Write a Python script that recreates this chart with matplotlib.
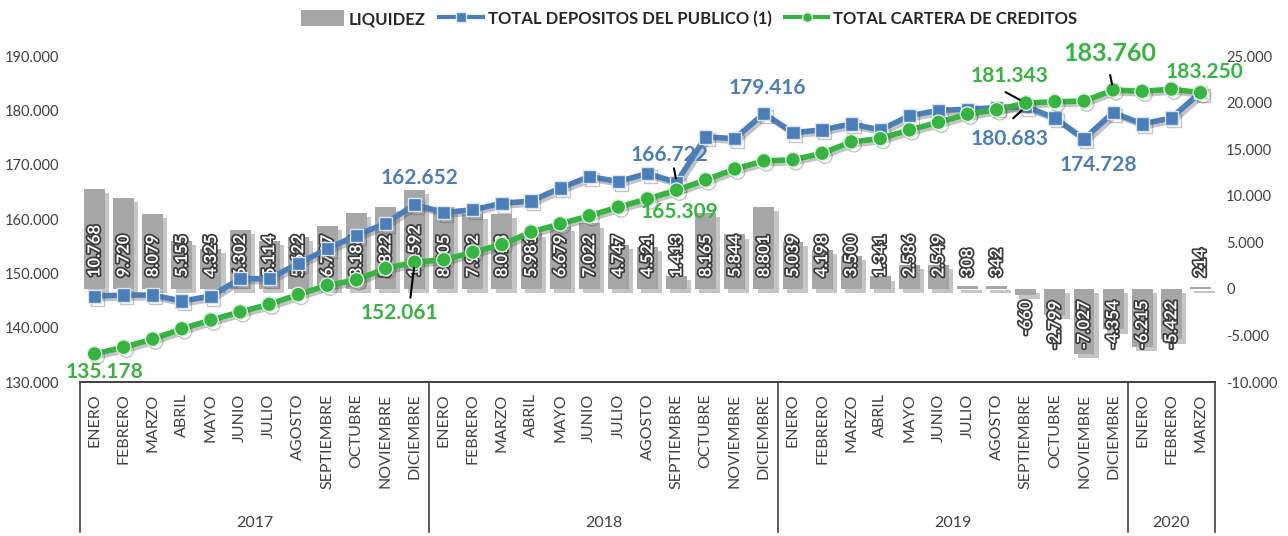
import matplotlib
matplotlib.use("Agg")
import matplotlib.pyplot as plt
import matplotlib.patheffects as pe
from matplotlib.patches import Patch
from matplotlib.lines import Line2D

plt.rcParams["font.family"] = ["Lato", "DejaVu Sans"]

# datos
meses = ["ENERO", "FEBRERO", "MARZO", "ABRIL", "MAYO", "JUNIO", "JULIO", "AGOSTO",
         "SEPTIEMBRE", "OCTUBRE", "NOVIEMBRE", "DICIEMBRE"]
anios = ["2017", "2018", "2019", "2020"]
meses_por_anio = [12, 12, 12, 3]

liquidez = [10768, 9720, 8079, 5155, 4325, 6302, 5114, 5622, 6797, 8186, 8822, 10592,
            8805, 7992, 8013, 5981, 6679, 7022, 4747, 4521, 1413, 8165, 5844, 8801,
            5039, 4198, 3500, 1341, 2586, 2549, 308, 342, -660, -2799, -7027, -4354,
            -6215, -5422, 214]

depositos = [145800, 146000, 146000, 144900, 145800, 149000, 149000, 151800, 154500, 157000, 159200, 162652,
             161200, 161700, 162900, 163300, 165700, 167800, 166900, 168400, 166722, 175100, 174800, 179416,
             175900, 176400, 177500, 176400, 179000, 180000, 180200, 180500, 180683, 178600, 174728, 179600,
             177500, 178600, 183300]

cartera = [135178, 136400, 137900, 139800, 141400, 142900, 144300, 146100, 147800, 148800, 150900, 152061,
           152500, 153900, 155300, 157600, 159100, 160600, 162200, 163700, 165309, 167200, 169200, 170700,
           170900, 172100, 174200, 174800, 176400, 177800, 179300, 180100, 181343, 181600, 181700, 183760,
           183500, 183900, 183250]

categorias = []
for anio, n in zip(anios, meses_por_anio):
    categorias += meses[:n]

def fmt(v):
    return f"{v:,}".replace(",", ".")

AZUL = "#4a7ebb"
VERDE = "#35b53f"
GRIS = "#a6a6a6"
TEXTO = "#404040"

fig = plt.figure(figsize=(12.88, 5.36), dpi=100)
ax_bar = fig.add_axes([0.0621, 0.2873, 0.8812, 0.6082])
ax_lin = ax_bar.twinx()

x = list(range(len(categorias)))

# barras (eje derecho)
bars = ax_bar.bar(x, liquidez, width=0.72, color=GRIS, zorder=2)
for b in bars:
    b.set_path_effects([pe.withSimplePatchShadow(offset=(3, -3), shadow_rgbFace="#808080", alpha=0.45)])

for i, v in enumerate(liquidez):
    if v >= 0:
        y0, va = 1250, "bottom"
    else:
        y0, va = -1250, "top"
    ax_bar.text(i, y0, fmt(v), rotation=90, ha="center", va=va, fontsize=12, fontweight="bold",
                color="white", zorder=3,
                path_effects=[pe.Stroke(linewidth=2.5, foreground="#3a3a3a"), pe.Normal()])

ax_bar.set_ylim(-10000, 25000)
ax_bar.set_yticks(range(-10000, 25001, 5000))
ax_bar.set_yticklabels([fmt(t) for t in range(-10000, 25001, 5000)])
ax_bar.yaxis.tick_right()
ax_bar.set_xlim(-0.5, len(categorias) - 0.5)
ax_bar.set_xticks([])

# lineas (eje izquierdo)
sombra = [pe.SimpleLineShadow(offset=(2, -2), alpha=0.35, shadow_color="#555555"), pe.Normal()]
ax_lin.plot(x, depositos, color=AZUL, lw=4, marker="s", ms=9.5, mfc=AZUL, mec="#d8e4f2", mew=1,
            zorder=4, path_effects=sombra)
ax_lin.plot(x, cartera, color=VERDE, lw=4, marker="o", ms=10.5, mfc=VERDE, mec="#d9f0db", mew=1,
            zorder=5, path_effects=sombra)
ax_lin.set_ylim(130000, 190000)
ax_lin.set_yticks(range(130000, 190001, 10000))
ax_lin.set_yticklabels([fmt(t) for t in range(130000, 190001, 10000)])
ax_lin.yaxis.tick_left()

for a in (ax_bar, ax_lin):
    a.tick_params(length=0, labelsize=10.5, labelcolor=TEXTO)
    for s in ("left", "right", "top"):
        a.spines[s].set_visible(False)
    a.spines["bottom"].set_color("#404040")
    a.spines["bottom"].set_linewidth(1.2)
ax_bar.tick_params(axis="y", pad=8)
ax_lin.tick_params(axis="y", pad=15)

# etiquetas de valores en las lineas: (indice, serie, color, desplazamiento, tamano, guia)
etiquetas = [
    (0, cartera, VERDE, (10, -18), 15, None),
    (11, cartera, VERDE, (-15, -51), 15, dict(relpos=(0.63, 1.0), shrinkA=2, shrinkB=4)),
    (11, depositos, AZUL, (5, 27), 15, None),
    (20, depositos, AZUL, (-7, 27), 15, dict(relpos=(0.55, 0.0), shrinkA=12, shrinkB=3)),
    (20, cartera, VERDE, (3, -22), 15, None),
    (23, depositos, AZUL, (4, 26), 15, None),
    (32, cartera, VERDE, (-16, 27), 15, dict(relpos=(0.3, 0.0), shrinkA=5, shrinkB=5)),
    (32, depositos, AZUL, (-16, -32), 15, dict(relpos=(0.4, 1.0), shrinkA=8, shrinkB=4)),
    (34, depositos, AZUL, (14, -26), 15, None),
    (35, cartera, VERDE, (-3, 36), 18, dict(relpos=(0.48, 0.0), shrinkA=5, shrinkB=4)),
    (38, cartera, VERDE, (4, 21), 15, None),
]
for i, serie, col, off, fs, guia in etiquetas:
    arrow = None
    if guia:
        arrow = dict(arrowstyle="-", color="black", lw=1.5, **guia)
    ax_lin.annotate(fmt(serie[i]), xy=(i, serie[i]), xytext=off, textcoords="offset pixels",
                    ha="center", va="center", fontsize=fs, fontweight="bold", color=col,
                    arrowprops=arrow, zorder=6)

# eje de categorias en dos niveles
tr = ax_bar.get_xaxis_transform()
for i, m in enumerate(categorias):
    ax_bar.text(i, -0.035, m, rotation=90, ha="center", va="top", fontsize=11.5, color=TEXTO,
                transform=tr, clip_on=False)

inicio = -0.5
for anio, n in zip(anios, meses_por_anio):
    ax_bar.plot([inicio, inicio], [0, -0.46], transform=tr, color="#404040", lw=1.2, clip_on=False)
    ax_bar.text(inicio + n / 2, -0.432, anio, ha="center", va="center", fontsize=11.5, color=TEXTO,
                transform=tr, clip_on=False)
    inicio += n
ax_bar.plot([inicio, inicio], [0, -0.46], transform=tr, color="#404040", lw=1.2, clip_on=False)

# leyenda
handles = [
    Patch(facecolor=GRIS, edgecolor="none"),
    Line2D([], [], color=AZUL, lw=3, marker="s", ms=7, mec="#d8e4f2"),
    Line2D([], [], color=VERDE, lw=3, marker="o", ms=7, mec="#d9f0db"),
]
fig.legend(handles, ["LIQUIDEZ", "TOTAL DEPOSITOS DEL PUBLICO (1)", "TOTAL CARTERA DE CREDITOS"],
           loc="center", bbox_to_anchor=(0.535, 0.965), ncol=3, frameon=False,
           prop={"weight": "bold", "size": 12}, labelcolor="#262626",
           handlelength=2.6, handleheight=1.1, handletextpad=0.3, columnspacing=0.8)

fig.savefig("out.png", dpi=100)
